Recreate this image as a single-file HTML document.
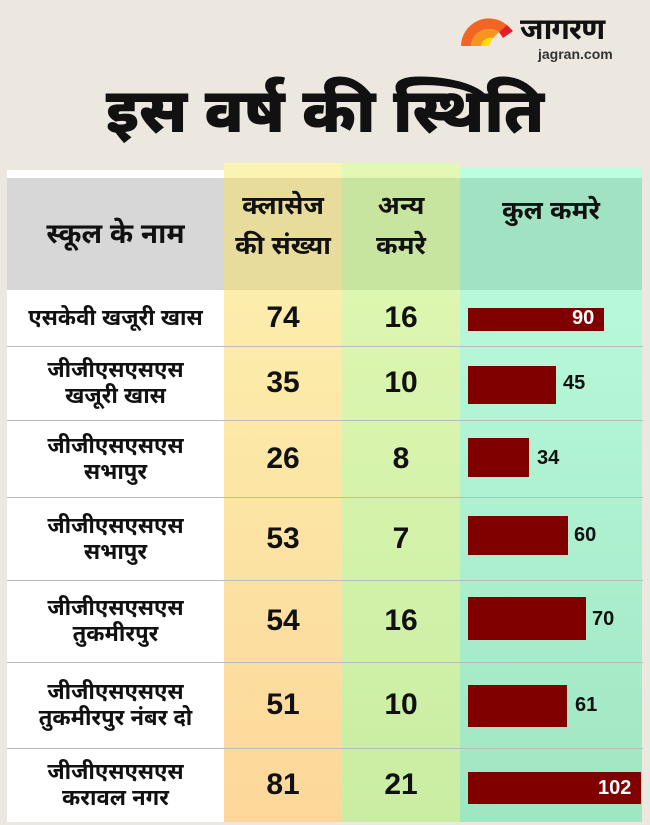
<!DOCTYPE html>
<html><head><meta charset="utf-8"><style>
*{margin:0;padding:0;box-sizing:border-box}
body{width:650px;height:825px;background:#ece8e0;position:relative;overflow:hidden;font-family:"Liberation Sans","Noto Sans Devanagari",sans-serif;color:#111}
.a{position:absolute}
.c{display:flex;align-items:center;justify-content:center;text-align:center}
.num{font-size:30px;font-weight:bold}
.nm{font-size:22px;font-weight:bold;line-height:26px}
.bar{position:absolute;background:#800000;left:468px}
.bv{position:absolute;font-size:20px;font-weight:bold}
.sep{position:absolute;left:7px;width:636px;height:1px;background:#bbb}
</style></head><body>
<svg class="a" style="left:459px;top:16px" width="60" height="32"><path d="M2 30 A28 28 0 0 1 48 9 L40 16 A18 18 0 0 0 12 30Z" fill="#f26522"/><path d="M12 30 A18 18 0 0 1 40 16 L34 22 A10 10 0 0 0 22 30Z" fill="#f7941d"/><path d="M22 30 A10 10 0 0 1 34 22 L30 30Z" fill="#ffe000"/><path d="M48 9 L54 15 L44 22 L40 16Z" fill="#e31e24"/></svg>
<div class="a" style="left:520px;top:13px;font-size:30px;font-weight:bold;letter-spacing:-1px">जागरण</div>
<div class="a" style="left:538px;top:46px;font-size:14px;font-weight:bold;color:#333">jagran.com</div>
<div class="a c" style="left:0;top:78px;width:650px;height:78px;font-size:62px;font-weight:900">इस वर्ष की स्थिति</div>
<div class="a" style="left:7px;top:170px;width:217px;height:652px;background:#fff"></div>
<div class="a" style="left:224px;top:163px;width:118px;height:659px;background:linear-gradient(#fbf3b0,#fdd79a)"></div>
<div class="a" style="left:342px;top:163px;width:118px;height:659px;background:linear-gradient(#e2f8b4,#c9eda2)"></div>
<div class="a" style="left:460px;top:168px;width:182px;height:654px;background:linear-gradient(#bdfde0,#9fe6c2)"></div>
<div class="a" style="left:7px;top:178px;width:217px;height:112px;background:#d7d7d7"></div>
<div class="a" style="left:224px;top:178px;width:118px;height:112px;background:#e8dc9c"></div>
<div class="a" style="left:342px;top:178px;width:118px;height:112px;background:#c8e5a0"></div>
<div class="a" style="left:460px;top:178px;width:182px;height:112px;background:#a0e2c2"></div>
<div class="a c nm" style="left:7px;top:178px;width:217px;height:112px;font-size:28px">स्कूल के नाम</div>
<div class="a c nm" style="left:224px;top:185px;width:118px;height:80px;font-size:26px;line-height:40px">क्लासेज<br>की संख्या</div>
<div class="a c nm" style="left:342px;top:185px;width:118px;height:80px;font-size:26px;line-height:40px">अन्य<br>कमरे</div>
<div class="a c nm" style="left:460px;top:190px;width:182px;height:40px;font-size:26px">कुल कमरे</div>
<div class="sep" style="top:346px"></div><div class="sep" style="top:420px"></div><div class="sep" style="top:497px"></div><div class="sep" style="top:580px"></div><div class="sep" style="top:662px"></div><div class="sep" style="top:748px"></div>
<!-- rows -->
<div class="a c nm" style="left:7px;top:290px;width:217px;height:56px">एसकेवी खजूरी खास</div>
<div class="a c num" style="left:224px;top:290px;width:118px;height:56px">74</div>
<div class="a c num" style="left:342px;top:290px;width:118px;height:56px">16</div>
<div class="bar" style="top:308px;width:136px;height:23px"></div><div class="bv" style="left:572px;top:307px;color:#fff">90</div>

<div class="a c nm" style="left:7px;top:346px;width:217px;height:74px">जीजीएसएसएस<br>खजूरी खास</div>
<div class="a c num" style="left:224px;top:346px;width:118px;height:74px">35</div>
<div class="a c num" style="left:342px;top:346px;width:118px;height:74px">10</div>
<div class="bar" style="top:366px;width:88px;height:38px"></div><div class="bv" style="left:563px;top:372px">45</div>

<div class="a c nm" style="left:7px;top:420px;width:217px;height:77px">जीजीएसएसएस<br>सभापुर</div>
<div class="a c num" style="left:224px;top:420px;width:118px;height:77px">26</div>
<div class="a c num" style="left:342px;top:420px;width:118px;height:77px">8</div>
<div class="bar" style="top:438px;width:61px;height:39px"></div><div class="bv" style="left:537px;top:447px">34</div>

<div class="a c nm" style="left:7px;top:497px;width:217px;height:83px">जीजीएसएसएस<br>सभापुर</div>
<div class="a c num" style="left:224px;top:497px;width:118px;height:83px">53</div>
<div class="a c num" style="left:342px;top:497px;width:118px;height:83px">7</div>
<div class="bar" style="top:516px;width:100px;height:39px"></div><div class="bv" style="left:574px;top:524px">60</div>

<div class="a c nm" style="left:7px;top:580px;width:217px;height:82px">जीजीएसएसएस<br>तुकमीरपुर</div>
<div class="a c num" style="left:224px;top:580px;width:118px;height:82px">54</div>
<div class="a c num" style="left:342px;top:580px;width:118px;height:82px">16</div>
<div class="bar" style="top:597px;width:118px;height:43px"></div><div class="bv" style="left:592px;top:608px">70</div>

<div class="a c nm" style="left:7px;top:662px;width:217px;height:86px">जीजीएसएसएस<br>तुकमीरपुर नंबर दो</div>
<div class="a c num" style="left:224px;top:662px;width:118px;height:86px">51</div>
<div class="a c num" style="left:342px;top:662px;width:118px;height:86px">10</div>
<div class="bar" style="top:685px;width:99px;height:42px"></div><div class="bv" style="left:575px;top:694px">61</div>

<div class="a c nm" style="left:7px;top:748px;width:217px;height:74px">जीजीएसएसएस<br>करावल नगर</div>
<div class="a c num" style="left:224px;top:748px;width:118px;height:74px">81</div>
<div class="a c num" style="left:342px;top:748px;width:118px;height:74px">21</div>
<div class="bar" style="top:772px;width:173px;height:32px"></div><div class="bv" style="left:598px;top:777px;color:#fff">102</div>
</body></html>
